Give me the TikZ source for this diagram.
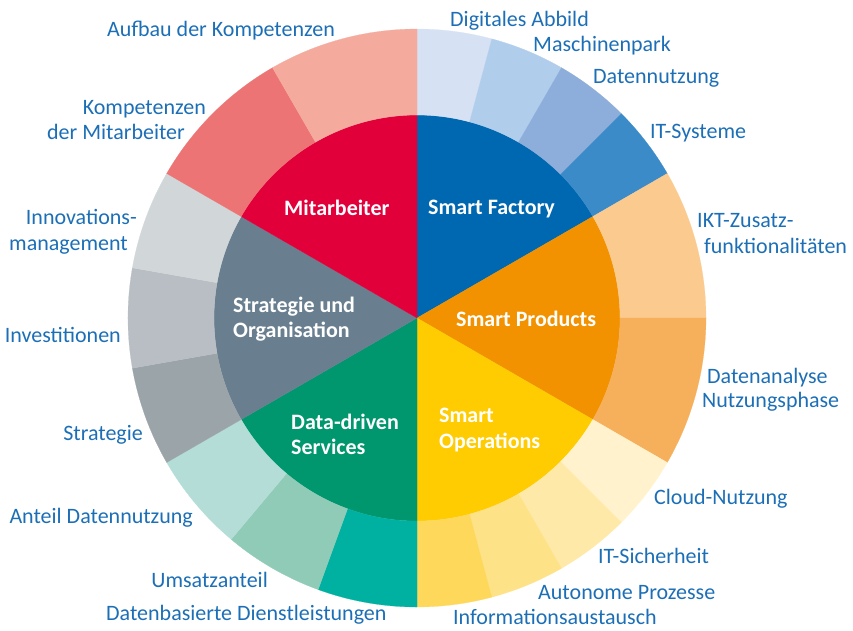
\documentclass[tikz,border=0pt]{standalone}
\usepackage{fontspec}
\setmainfont{Carlito}
\usepackage{xcolor}
\usetikzlibrary{positioning}

\definecolor{lblblue}{HTML}{1C6FB6}
% inner sectors
\definecolor{staff}{HTML}{E2003B}
\definecolor{factory}{HTML}{0067B1}
\definecolor{products}{HTML}{F39200}
\definecolor{operations}{HTML}{FECC00}
\definecolor{services}{HTML}{00976F}
\definecolor{strategy}{HTML}{697F90}
% outer ring
\definecolor{staffA}{HTML}{F4AA9C}
\definecolor{staffB}{HTML}{EC7474}
\definecolor{factA}{HTML}{D6E2F3}
\definecolor{factB}{HTML}{B1CDEC}
\definecolor{factC}{HTML}{8DADDA}
\definecolor{factD}{HTML}{3B8BC9}
\definecolor{prodA}{HTML}{FBCA8F}
\definecolor{prodB}{HTML}{F6AF5A}
\definecolor{operA}{HTML}{FFF2CD}
\definecolor{operB}{HTML}{FFE9A8}
\definecolor{operC}{HTML}{FEE287}
\definecolor{operD}{HTML}{FDD85A}
\definecolor{servA}{HTML}{00B1A2}
\definecolor{servB}{HTML}{8FCBB6}
\definecolor{servC}{HTML}{B3DDD6}
\definecolor{stratA}{HTML}{D1D6D9}
\definecolor{stratB}{HTML}{B8BEC4}
\definecolor{stratC}{HTML}{9BA4A9}

\begin{document}
\begin{tikzpicture}[x=1pt, y=1pt,
    lbl/.style={text=lblblue, inner sep=0pt, font=\fontsize{22}{26}\selectfont},
    hub/.style={text=white, inner sep=0pt, font=\fontsize{22}{26}\selectfont\bfseries}]
\useasboundingbox (-417, -312) rectangle (436, 318);
% inner circle
\foreach \from/\to/\col in {90/30/factory, 30/-30/products, -30/-90/operations,
        -90/-150/services, -150/-210/strategy, -210/-270/staff}
    \fill[\col, draw=\col, line width=0.2pt] (0, 0) -- (\from:203pt)
        arc[start angle=\from, end angle=\to, radius=203pt] -- cycle;
% outer ring
\foreach \from/\to/\col in {90/75/factA, 75/60/factB, 60/45/factC, 45/30/factD,
        30/0/prodA, 0/-30/prodB,
        -30/-45/operA, -45/-60/operB, -60/-75/operC, -75/-90/operD,
        -90/-110/servA, -110/-130/servB, -130/-150/servC,
        -150/-170/stratC, -170/-190/stratB, -190/-210/stratA,
        -210/-240/staffB, -240/-270/staffA}
    \fill[\col, draw=\col, line width=0.2pt] (\from:203pt) -- (\from:289pt)
        arc[start angle=\from, end angle=\to, radius=289pt] -- (\to:203pt)
        arc[start angle=\to, end angle=\from, radius=203pt] -- cycle;
% sector names
\node[hub, anchor=base west] (mitarb) at (-133, 103) {Mitarbeiter};
\node[hub, anchor=base west] (factory) at (11, 104) {Smart Factory};
\node[hub, anchor=base west] (strat1) at (-184, 6) {Strategie und};
\node[hub, anchor=base west] (strat2) at (-184, -19) {Organisation};
\node[hub, anchor=base west] (products) at (39, -8) {Smart Products};
\node[hub, anchor=base west] (data1) at (-126, -111) {Data-driven};
\node[hub, anchor=base west] (data2) at (-126, -136) {Services};
\node[hub, anchor=base west] (oper1) at (22, -104) {Smart};
\node[hub, anchor=base west] (oper2) at (22, -130) {Operations};
% left labels
\node[lbl, anchor=base east] (aufbau) at (-82, 282) {Aufbau der Kompetenzen};
\node[lbl, anchor=base east] (komp1) at (-211, 204) {Kompetenzen};
\node[lbl, anchor=base east] (komp2) at (-232, 179) {der Mitarbeiter};
\node[lbl, anchor=base east] (inno1) at (-280, 94) {Innovations-};
\node[lbl, anchor=base east] (inno2) at (-289, 68) {management};
\node[lbl, anchor=base east] (invest) at (-296, -24) {Investitionen};
\node[lbl, anchor=base east] (strategie) at (-274, -122) {Strategie};
\node[lbl, anchor=base east] (anteil) at (-224, -205) {Anteil Datennutzung};
\node[lbl, anchor=base east] (umsatz) at (-149, -269) {Umsatzanteil};
\node[lbl, anchor=base west] (dienst) at (-311, -302) {Datenbasierte Dienstleistungen};
% right labels
\node[lbl, anchor=base west] (abbild) at (33, 291) {Digitales Abbild};
\node[lbl, anchor=base west] (masch) at (116, 267) {Maschinenpark};
\node[lbl, anchor=base west] (nutzung) at (176, 235) {Datennutzung};
\node[lbl, anchor=base west] (itsys) at (233, 180) {IT-Systeme};
\node[lbl, anchor=base west] (ikt1) at (280, 91) {IKT-Zusatz-};
\node[lbl, anchor=base west] (ikt2) at (287, 65) {funktionalitäten};
\node[lbl, anchor=base west] (analyse1) at (290, -65) {Datenanalyse};
\node[lbl, anchor=base west] (analyse2) at (285, -89) {Nutzungsphase};
\node[lbl, anchor=base west] (cloud) at (237, -186) {Cloud-Nutzung};
\node[lbl, anchor=base west] (sicher) at (181, -245) {IT-Sicherheit};
\node[lbl, anchor=base west] (autonom) at (121, -281) {Autonome Prozesse};
\node[lbl, anchor=base west] (austausch) at (36, -306) {Informationsaustausch};
\end{tikzpicture}
\end{document}
